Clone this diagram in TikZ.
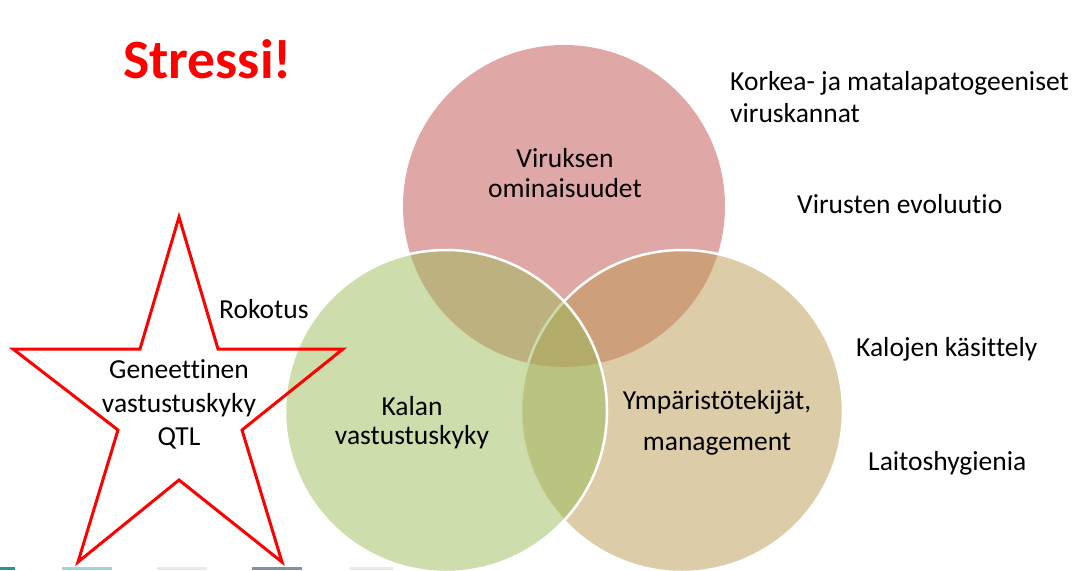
\documentclass[tikz,border=0pt]{standalone}
\usepackage{fontspec}
\setmainfont{Carlito}[Ligatures={NoCommon}]
\definecolor{cred}{RGB}{192,80,77}
\definecolor{cgreen}{RGB}{155,187,89}
\definecolor{ctan}{RGB}{187,153,81}
\definecolor{starred}{RGB}{255,0,0}
\definecolor{barA}{RGB}{40,150,150}
\definecolor{barB}{RGB}{160,212,216}
\definecolor{barC}{RGB}{232,234,238}
\definecolor{barD}{RGB}{120,150,155}
\tikzset{
  venn/.style={circle, minimum size=322pt, inner sep=0pt, fill opacity=0.5},
  lbl/.style={font=\fontsize{27.5}{32}\selectfont, inner sep=0pt, text=black},
  bar/.style={inner sep=0pt, minimum height=3pt, anchor=south west}
}
\begin{document}
\begin{tikzpicture}[x=1pt,y=-1pt]
\useasboundingbox (0,0) rectangle (1089,570);
\begin{scope}
\clip (0,0) rectangle (1089,570);
% circles: red, tan, green (draw order matters for blending)
\node[venn, fill=cred] (vir) at (564,206) {};
\node[venn, fill=ctan, draw=white, draw opacity=1, line width=2.5pt] (env) at (682,411) {};
\node[venn, fill=cgreen, draw=white, draw opacity=1, line width=2.5pt] (fish) at (446,411) {};
\end{scope}
% star
\draw[starred, line width=3pt, line join=miter]
  (179,217) -- (218,349) -- (343,349) -- (242,430) -- (282,562) -- (179,480)
  -- (78,562) -- (118,430) -- (13,349) -- (140,349) -- cycle;
% title
\node[font=\fontsize{55.5}{60}\selectfont\bfseries, text=starred, inner sep=0pt, anchor=base west] (title) at (123,78) {Stressi!};
% circle labels
\node[lbl, anchor=base] (v1) at (565,167) {Viruksen};
\node[lbl, anchor=base] (v2) at (565,197) {ominaisuudet};
\node[lbl, anchor=base] (k1) at (412,415) {Kalan};
\node[lbl, anchor=base] (k2) at (412,444) {vastustuskyky};
\node[lbl, anchor=base] (y1) at (717,409) {Ympäristötekijät,};
\node[lbl, anchor=base] (y2) at (717,450) {management};
% star labels
\node[lbl, anchor=base] (g1) at (179,378) {Geneettinen};
\node[lbl, anchor=base] (g2) at (179,412) {vastustuskyky};
\node[lbl, anchor=base] (g3) at (179,445) {QTL};
\node[lbl, anchor=base west] (rok) at (219,318) {Rokotus};
% right labels
\node[lbl, anchor=base west] (r1) at (730,90) {Korkea- ja matalapatogeeniset};
\node[lbl, anchor=base west] (r2) at (730,122) {viruskannat};
\node[lbl, anchor=base west] (r3) at (797,213) {Virusten evoluutio};
\node[lbl, anchor=base west] (r4) at (856,356) {Kalojen käsittely};
\node[lbl, anchor=base west] (r5) at (868,470) {Laitoshygienia};
% bottom strip remnants
\node[bar, fill=barA, minimum width=15pt] (b1) at (0,570) {};
\node[bar, fill=barB, minimum width=50pt] (b2) at (62,570) {};
\node[bar, fill=barC, minimum width=50pt] (b3) at (157,570) {};
\node[bar, fill=barD, minimum width=50pt] (b4) at (252,570) {};
\node[bar, fill=barC, minimum width=43pt] (b5) at (350,570) {};
\end{tikzpicture}
\end{document}
